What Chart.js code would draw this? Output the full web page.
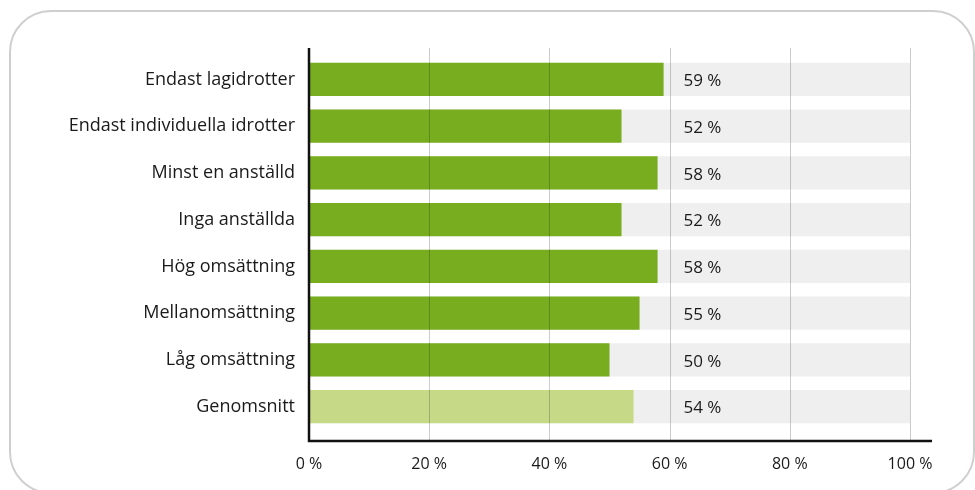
<!DOCTYPE html>
<html>
<head>
<meta charset="utf-8">
<script src="https://cdn.jsdelivr.net/npm/chart.js@4.4.1/dist/chart.umd.min.js"></script>
<style>
  html, body { margin: 0; padding: 0; background: #fff; }
  #wrap { position: relative; width: 975px; height: 490px; overflow: hidden; }
  #box { position: absolute; left: 9px; top: 10px; width: 966px; height: 484px;
         border: 2px solid #cfcfcf; border-radius: 42px; box-sizing: border-box; }
  #graf { position: absolute; left: 0; top: 0; }
</style>
</head>
<body>
<div id="wrap">
  <div id="box"></div>
  <canvas id="graf" width="975" height="490"></canvas>
</div>
<script>
"use strict";

let kategorier = ["Endast lagidrotter", "Endast individuella idrotter", "Minst en anställd",
    "Inga anställda", "Hög omsättning", "Mellanomsättning", "Låg omsättning", "Genomsnitt"];
let andel = [59, 52, 58, 52, 58, 55, 50, 54];
let bakgrund = [100, 100, 100, 100, 100, 100, 100, 100];
let x_ticks = [0, 20, 40, 60, 80, 100];

let green = "#77ad1e";
let light_green = "#c6d987";
let barColors = andel.map((v, i) => i === andel.length - 1 ? light_green : green);

let fontName = "'Open Sans', sans-serif";

// gridlines, axes and value labels drawn on top of the bars
let overlay = {
    id: "overlay",
    afterDatasetsDraw(chart)
    {
        let ctx = chart.ctx;
        let xs = chart.scales.x;
        let ys = chart.scales.y;
        let top = 48;
        let bottom = 441;
        ctx.save();

        ctx.strokeStyle = "rgba(0,0,0,0.2)";
        ctx.lineWidth = 1;
        for (let t of x_ticks)
        {
            if (t === 0) continue;
            let x = Math.round(xs.getPixelForValue(t)) + 0.5;
            ctx.beginPath();
            ctx.moveTo(x, top);
            ctx.lineTo(x, bottom);
            ctx.stroke();
        }

        ctx.strokeStyle = "#111";
        ctx.lineWidth = 2.5;
        let x0 = xs.getPixelForValue(0);
        ctx.beginPath();
        ctx.moveTo(x0, top);
        ctx.lineTo(x0, bottom);
        ctx.lineTo(xs.getPixelForValue(100) + 22, bottom);
        ctx.stroke();

        ctx.fillStyle = "#1a1a1a";
        ctx.font = "17px " + fontName;
        ctx.textBaseline = "middle";
        ctx.textAlign = "left";
        let lx = xs.getPixelForValue(62.3);
        for (let i in andel)
        {
            let y = ys.getPixelForValue(Number(i));
            ctx.fillText(andel[i] + " %", lx, y + 2);
        }
        ctx.restore();
    }
};

let grafCanvas = document.querySelector("#graf").getContext("2d");
let graf = new Chart(grafCanvas, {
    type: "bar",
    data: {
        labels: kategorier,
        datasets: [
            {
                data: andel,
                backgroundColor: barColors,
                grouped: false,
                barPercentage: 0.71,
                categoryPercentage: 1
            },
            {
                data: bakgrund,
                backgroundColor: "#efefef",
                grouped: false,
                barPercentage: 0.71,
                categoryPercentage: 1
            }
        ]
    },
    options: {
        indexAxis: "y",
        responsive: false,
        animation: false,
        layout: { padding: { top: 56, right: 65, left: 0, bottom: 0 } },
        plugins: {
            legend: { display: false },
            tooltip: { enabled: false }
        },
        scales: {
            x: {
                min: 0,
                max: 100,
                afterBuildTicks(scale)
                {
                    scale.ticks = x_ticks.map(v => ({ value: v }));
                },
                afterFit(scale) { scale.height = 60; },
                grid: { display: false, drawTicks: false },
                border: { display: false },
                ticks: {
                    padding: 25,
                    color: "#1a1a1a",
                    font: { family: fontName, size: 16 },
                    maxRotation: 0,
                    callback: v => v + " %"
                }
            },
            y: {
                afterFit(scale) { scale.width = 309; },
                grid: { display: false, drawTicks: false },
                border: { display: false },
                ticks: {
                    padding: 14,
                    color: "#1a1a1a",
                    font: { family: fontName, size: 18 }
                }
            }
        }
    },
    plugins: [overlay]
});
</script>
</body>
</html>
